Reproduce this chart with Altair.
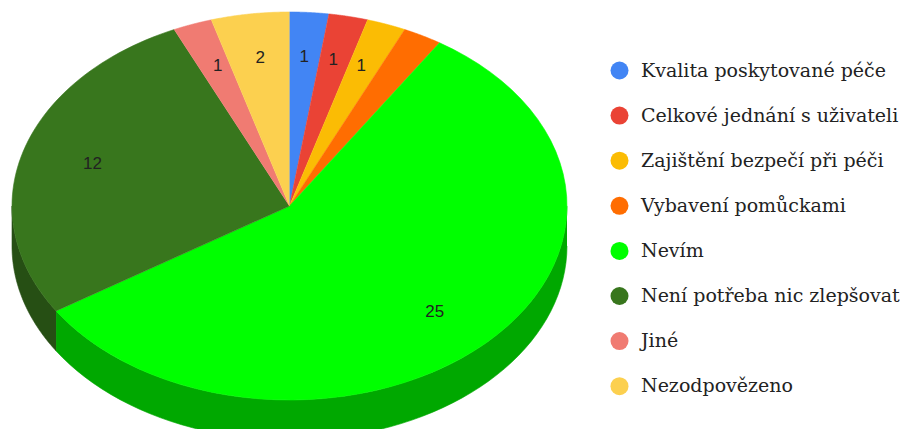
import altair as alt
import pandas as pd

categories = [
    "Kvalita poskytované péče",
    "Celkové jednání s uživateli",
    "Zajištění bezpečí při péči",
    "Vybavení pomůckami",
    "Nevím",
    "Není potřeba nic zlepšovat",
    "Jiné",
    "Nezodpovězeno",
]
values = [1, 1, 1, 1, 25, 12, 1, 2]
slice_labels = ["1", "1", "1", "", "25", "12", "1", "2"]
colors = ["#4285F4", "#EA4335", "#FBBC04", "#FF6D01", "#00FF00", "#38761D", "#F07B72", "#FCD04F"]
side_colors = ["#2E5DAB", "#A32F25", "#B08403", "#B24C01", "#00A800", "#264F14", "#A8564F", "#B09237"]

df = pd.DataFrame({
    "idx": list(range(len(categories))),
    "cat": categories,
    "value": values,
    "lab": slice_labels,
    "side": side_colors,
})

# geometry (layout, in plot pixels)
W, H = 905, 421
CX, CY = 281.5, 198.0   # pie centre inside plot area
RX, RY = 277.5, 194.0   # ellipse radii
DEPTH = 40.0            # 3D side wall depth
xdom = [-CX / RX, (W - CX) / RX]
ydom = [-(H - CY) / RY, CY / RY]
d = DEPTH / RY

xs = alt.X("px:Q", scale=alt.Scale(domain=xdom), axis=None)
ys = alt.Y("py:Q", scale=alt.Scale(domain=ydom), axis=None)

base = (
    alt.Chart(df)
    .transform_joinaggregate(total="sum(value)")
    .transform_window(cum="sum(value)", sort=[alt.SortField("idx")], frame=[None, 0])
    .transform_calculate(
        a0="2*PI*(datum.cum-datum.value)/datum.total",
        a1="2*PI*datum.cum/datum.total",
    )
)

N = 60
top = (
    base.transform_calculate(k=f"sequence(0, {N + 2})")
    .transform_flatten(["k"])
    .transform_calculate(
        ang=f"datum.a0 + (datum.a1-datum.a0)*(datum.k-1)/{N}",
    )
    .transform_calculate(
        px="datum.k==0 ? 0 : sin(datum.ang)",
        py="datum.k==0 ? 0 : cos(datum.ang)",
    )
    .mark_line(strokeWidth=0.6, interpolate="linear")
    .encode(
        x=xs,
        y=ys,
        order=alt.Order("k:Q"),
        detail="cat:N",
        fill=alt.Fill(
            "cat:N",
            scale=alt.Scale(domain=categories, range=colors),
            sort=categories,
            legend=alt.Legend(
                title=None,
                orient="none",
                legendX=602,
                legendY=53,
                symbolType="circle",
                symbolSize=324,
                symbolStrokeWidth=0,
                labelFont="DejaVu Serif",
                labelFontSize=19,
                labelColor="#222222",
                labelOffset=12,
                labelLimit=400,
                rowPadding=25.1,
            ),
        ),
        stroke=alt.Stroke("cat:N", scale=alt.Scale(domain=categories, range=colors), legend=None),
    )
)

M = 60
side = (
    base.transform_calculate(
        b0="max(datum.a0, PI/2)",
        b1="min(datum.a1, 3*PI/2)",
    )
    .transform_filter("datum.b1 > datum.b0")
    .transform_calculate(k=f"sequence(0, {2 * M + 2})")
    .transform_flatten(["k"])
    .transform_calculate(
        ang=f"datum.k <= {M} ? datum.b0 + (datum.b1-datum.b0)*datum.k/{M} : datum.b1 - (datum.b1-datum.b0)*(datum.k-{M}-1)/{M}",
    )
    .transform_calculate(
        px="sin(datum.ang)",
        py=f"datum.k <= {M} ? cos(datum.ang) : cos(datum.ang) - {d}",
    )
    .mark_line(strokeWidth=0.6, interpolate="linear")
    .encode(
        x=xs,
        y=ys,
        order=alt.Order("k:Q"),
        detail="cat:N",
        fill=alt.Fill("side:N", scale=None),
        stroke=alt.Stroke("side:N", scale=None),
    )
)

labels = (
    base.transform_filter("datum.lab != ''")
    .transform_calculate(mid="(datum.a0+datum.a1)/2")
    .transform_calculate(
        px="0.74*sin(datum.mid)",
        py="0.77*cos(datum.mid)",
    )
    .mark_text(font="Liberation Sans", fontSize=17, color="#222222", align="center", baseline="middle")
    .encode(x=xs, y=ys, text="lab:N")
)

chart = (
    alt.layer(side, top, labels)
    .resolve_scale(fill="independent", stroke="independent")
    .properties(width=W, height=H, padding=0, autosize=alt.AutoSizeParams(type="none"))
    .configure_view(stroke=None)
)

chart.save("out.html", embed_options={"renderer": "svg", "actions": False})
